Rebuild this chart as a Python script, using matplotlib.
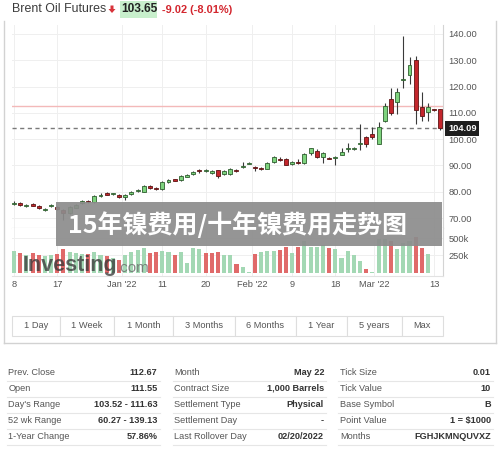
import matplotlib
matplotlib.use('Agg')
import matplotlib.pyplot as plt
import matplotlib.transforms as mtransforms
from matplotlib.patches import Rectangle
import numpy as np

plt.rcParams['font.family'] = ['Liberation Sans', 'DejaVu Sans']

# ---------------- data ----------------
title_name = 'Brent Oil Futures'
title_price = '103.65'
title_change = '-9.02 (-8.01%)'
banner_text = '15年镍费用/十年镍费用走势图'

opens = [75.5, 75.7, 74.4, 75.3, 74.4, 73.2, 74.4, 74.2, 73.2, 71.9,
         74.0, 75.6, 76.5, 76.0, 78.3, 79.4, 79.0, 78.8, 78.0, 79.1,
         80.1, 80.0, 82.0, 81.6, 80.9, 83.8, 84.7, 84.4, 85.7, 86.7,
         88.2, 87.8, 87.0, 88.2, 86.8, 86.7, 88.3, 89.3, 90.7, 89.4,
         89.2, 88.8, 91.3, 92.4, 92.6, 90.6, 91.5, 91.0, 94.9, 95.6,
         93.1, 92.9, 92.9, 94.0, 96.2, 96.1, 98.2, 101.0, 101.8, 98.2,
         107.0, 115.2, 114.0, 122.5, 124.4, 130.1, 112.4, 110.2, 111.3, 111.55]
closes = [75.9, 75.0, 75.0, 74.7, 74.0, 73.6, 74.8, 73.5, 71.8, 74.2,
          75.1, 76.5, 76.0, 78.5, 78.8, 78.9, 79.2, 78.1, 78.8, 79.9,
          80.8, 82.2, 81.5, 80.9, 83.6, 84.4, 84.2, 86.0, 86.3, 87.5,
          87.7, 88.1, 87.9, 86.0, 88.0, 88.8, 87.9, 89.6, 91.0, 89.0,
          88.6, 91.1, 93.3, 92.0, 90.2, 91.3, 91.1, 94.3, 96.5, 93.1,
          94.6, 92.6, 93.3, 95.2, 96.6, 96.7, 98.6, 98.2, 101.0, 104.8,
          112.6, 110.1, 118.1, 123.0, 128.2, 111.1, 108.9, 112.4, 111.0, 104.09]
highs = [76.5, 76.2, 75.3, 75.8, 75.0, 74.0, 75.2, 74.6, 73.6, 74.5,
         75.5, 76.9, 76.9, 78.8, 79.5, 80.0, 79.6, 79.2, 79.1, 80.2,
         81.1, 82.5, 82.6, 81.9, 83.9, 84.8, 85.0, 86.3, 86.7, 87.9,
         88.5, 88.6, 88.1, 88.4, 88.3, 89.0, 88.6, 91.2, 91.4, 89.9,
         89.5, 91.4, 93.6, 93.3, 92.9, 91.6, 92.5, 94.6, 96.8, 96.2,
         95.2, 93.2, 93.6, 96.8, 98.4, 97.0, 105.8, 101.2, 104.8, 106.7,
         113.6, 119.5, 119.3, 139.1, 131.3, 131.6, 117.9, 113.9, 111.5, 111.63]
lows = [75.0, 74.6, 74.2, 74.4, 73.4, 72.8, 74.2, 73.0, 69.3, 71.5,
        73.8, 75.3, 75.7, 75.8, 78.0, 78.6, 78.7, 77.8, 76.9, 78.9,
        79.9, 79.8, 81.2, 80.6, 80.7, 83.5, 84.0, 84.2, 85.5, 86.4,
        87.3, 87.4, 86.7, 85.3, 86.5, 86.5, 87.6, 89.0, 90.5, 88.0,
        88.3, 88.5, 91.0, 91.6, 90.0, 90.3, 90.5, 90.7, 94.0, 92.8,
        91.0, 92.3, 90.2, 93.8, 95.2, 95.8, 95.9, 96.9, 100.0, 98.0,
        106.6, 109.0, 109.5, 119.3, 120.8, 105.6, 106.8, 106.8, 110.8, 103.52]

volumes_k = [320, 285, 255, 280, 260, 240, 250, 270, 340, 300,
             280, 265, 275, 300, 260, 240, 220, 190, 257, 305,
             329, 352, 290, 305, 319, 305, 257, 305, 138, 352,
             343, 290, 290, 305, 257, 257, 129, 81, 19, 271,
             305, 314, 319, 329, 367, 290, 367, 457, 376, 376,
             400, 352, 343, 210, 314, 257, 171, 57, 19, 486,
             486, 457, 343, 424, 457, 519, 352, 271]
volume_dir = ("ududduuddu" "uuduududuu" "uudduuduuu" "uddduuduud"
              "uuudduduuu" "uduuuuuduu" "uduuuddu")

x_tick_pos = [0, 7, 17.5, 24, 31, 38.5, 45, 52, 58.3, 68]
x_tick_labels = ['8', '17', "Jan '22", '11', '20', "Feb '22", '9', '18', "Mar '22", '13']
price_ticks = [70, 80, 90, 100, 110, 120, 130, 140]
vol_ticks = [250, 500]
prev_close = 112.67
last_price = 104.09

periods = ['1 Day', '1 Week', '1 Month', '3 Months', '6 Months', '1 Year', '5 years', 'Max']

g1_labels = ['Prev. Close', 'Open', "Day's Range", '52 wk Range', '1-Year Change']
g1_values = ['112.67', '111.55', '103.52 - 111.63', '60.27 - 139.13', '57.86%']
g2_labels = ['Month', 'Contract Size', 'Settlement Type', 'Settlement Day', 'Last Rollover Day']
g2_values = ['May 22', '1,000 Barrels', 'Physical', '-', '02/20/2022']
g3_labels = ['Tick Size', 'Tick Value', 'Base Symbol', 'Point Value', 'Months']
g3_values = ['0.01', '10', 'B', '1 = $1000', 'FGHJKMNQUVXZ']

# ---------------- layout ----------------
W, H = 500, 449
fig = plt.figure(figsize=(W / 100, H / 100), dpi=100)
fig.patch.set_facecolor('white')


def px_axes(x0, y0, x1, y1):
    return fig.add_axes([x0 / W, 1 - y1 / H, (x1 - x0) / W, (y1 - y0) / H])


GRID = '#efefef'
LBL = '#555555'

n = len(opens)
idx = np.arange(n)
o = np.array(opens); c = np.array(closes)
hi = np.array(highs); lo = np.array(lows)
up = c >= o

# price pane
ax_p = px_axes(11.5, 25, 443, 228)
ax_p.set_xlim(-0.405, 69.42)
ax_p.set_ylim(66.21, 143.42)
ax_p.vlines(idx, lo, hi, color='#3a3a3a', lw=0.8, zorder=3)
body_lo = np.minimum(o, c)
body_h = np.maximum(np.abs(c - o), 0.4)
ax_p.bar(idx, body_h, bottom=body_lo, width=0.64,
         color=np.where(up, '#7ed37e', '#c3262c'),
         edgecolor=np.where(up, '#2f5f2f', '#5e1414'), linewidth=0.6, zorder=4)
ax_p.axhline(prev_close, color='#f3b9b9', lw=1.0, zorder=2)
ax_p.axhline(last_price, color='#7a7a7a', lw=1.0, ls=(0, (3, 2.5)), zorder=2)
ax_p.set_xticks(x_tick_pos)
ax_p.set_yticks(price_ticks)
ax_p.set_yticklabels([f'{t:.2f}' for t in price_ticks])
ax_p.yaxis.tick_right()
ax_p.tick_params(axis='y', length=0, pad=4, labelsize=6.7, labelcolor=LBL)
ax_p.tick_params(axis='x', length=0, labelbottom=False)
ax_p.grid(True, color=GRID, lw=0.7, zorder=0)
ax_p.set_axisbelow(True)
for s in ['top', 'left']:
    ax_p.spines[s].set_visible(False)
ax_p.spines['right'].set_color('#d4d4d4')
ax_p.spines['bottom'].set_color('#c4c4c4')
blend = mtransforms.blended_transform_factory(ax_p.transAxes, ax_p.transData)
ax_p.text(1.012, last_price, f'{last_price:.2f}', transform=blend, ha='left', va='center',
          fontsize=6.7, fontweight='bold', color='white', clip_on=False, zorder=10,
          bbox=dict(boxstyle='square,pad=0.3', fc='#1e1e1e', ec='none'))

# volume pane
ax_v = px_axes(11.5, 228, 443, 276)
ax_v.set_xlim(-0.405, 69.42)
ax_v.set_ylim(-42.9, 642.9)
vidx = np.arange(len(volumes_k))
vcols = ['#a3d8b4' if d == 'u' else '#e06a6a' for d in volume_dir]
ax_v.bar(vidx, volumes_k, width=0.66, color=vcols, zorder=3)
ax_v.set_xticks(x_tick_pos)
ax_v.set_xticklabels(x_tick_labels)
ax_v.set_yticks(vol_ticks)
ax_v.set_yticklabels([f'{t}k' for t in vol_ticks])
ax_v.yaxis.tick_right()
ax_v.tick_params(axis='y', length=0, pad=4, labelsize=6.7, labelcolor=LBL)
ax_v.tick_params(axis='x', length=0, pad=3, labelsize=6.7, labelcolor=LBL)
ax_v.grid(True, color=GRID, lw=0.7, zorder=0)
ax_v.set_axisbelow(True)
for s in ['top', 'left']:
    ax_v.spines[s].set_visible(False)
ax_v.spines['right'].set_color('#d4d4d4')
ax_v.spines['bottom'].set_color('#e2e2e2')

# overlay (pixel coordinates)
ax_o = fig.add_axes([0, 0, 1, 1])
ax_o.set_xlim(0, W)
ax_o.set_ylim(H, 0)
ax_o.axis('off')
ax_o.patch.set_visible(False)

# widget frame
fc = '#d2d2d2'
ax_o.plot([3.5, 3.5], [21, 343], color=fc, lw=1)
ax_o.plot([496, 496], [21, 343], color=fc, lw=1)
ax_o.plot([3.5, 496], [343, 343], color=fc, lw=1)

# title
ax_o.text(11.5, 9.5, title_name, fontsize=8.9, color='#3c3c3c', va='center', ha='left')
ax_o.fill([110.5, 113.5, 113.5, 115.5, 112, 108.5, 110.5],
          [5.5, 5.5, 9, 9, 13, 9, 9], color='#d8333a', lw=0)
ax_o.add_patch(Rectangle((119.5, 1), 37.5, 17, fc='#c8efcc', ec='none'))
ax_o.text(121, 9.5, title_price, fontsize=8.6, fontweight='bold', color='#222222',
          va='center', ha='left')
ax_o.text(162.5, 10, title_change, fontsize=7.9, fontweight='bold', color='#d3262e',
          va='center', ha='left')

# investing.com watermark
ax_o.text(23, 271.5, 'Investing', fontsize=15.5, fontweight='bold', color='#3a3a3a',
          alpha=0.78, va='baseline', ha='left')
ax_o.text(117, 271.5, '.com', fontsize=11, color='#6a6a6a', alpha=0.8,
          va='baseline', ha='left')

# banner
ax_o.add_patch(Rectangle((56, 202), 386, 44, fc='#8c8c8c', ec='none', alpha=0.92, zorder=5))
ax_o.text(68, 224.5, banner_text, fontsize=18, fontweight='bold', color='white',
          va='center', ha='left', family=['Noto Sans CJK SC', 'DejaVu Sans'], zorder=6)

# period buttons
edges = [11.7, 60, 114.3, 172.7, 235, 296, 346.7, 401.7, 442.7]
for i, lab in enumerate(periods):
    x0, x1 = edges[i], edges[i + 1]
    ax_o.add_patch(Rectangle((x0, 316), x1 - x0, 19.7, fc='white', ec='#dedede', lw=0.8))
    ax_o.text((x0 + x1) / 2, 326, lab, fontsize=6.7, color=LBL, ha='center', va='center')

# info table
row_y = [372.3, 388.3, 404.3, 420.3, 436.3]
groups = [(g1_labels, g1_values, 8.5, 157.5, 7, 160),
          (g2_labels, g2_values, 174, 324, 172.5, 326),
          (g3_labels, g3_values, 340, 490.7, 338, 492.5)]
for labels, values, lx, vx, l0, l1 in groups:
    for ry, lab, val in zip(row_y, labels, values):
        ax_o.text(lx, ry, lab, fontsize=6.6, color=LBL, ha='left', va='center')
        ax_o.text(vx, ry, val, fontsize=6.6, fontweight='bold', color='#333333',
                  ha='right', va='center')
        ax_o.plot([l0, l1], [ry + 8.5, ry + 8.5], color='#e6e6e6', lw=0.8)

fig.savefig('out.png', dpi=100, facecolor='white')
